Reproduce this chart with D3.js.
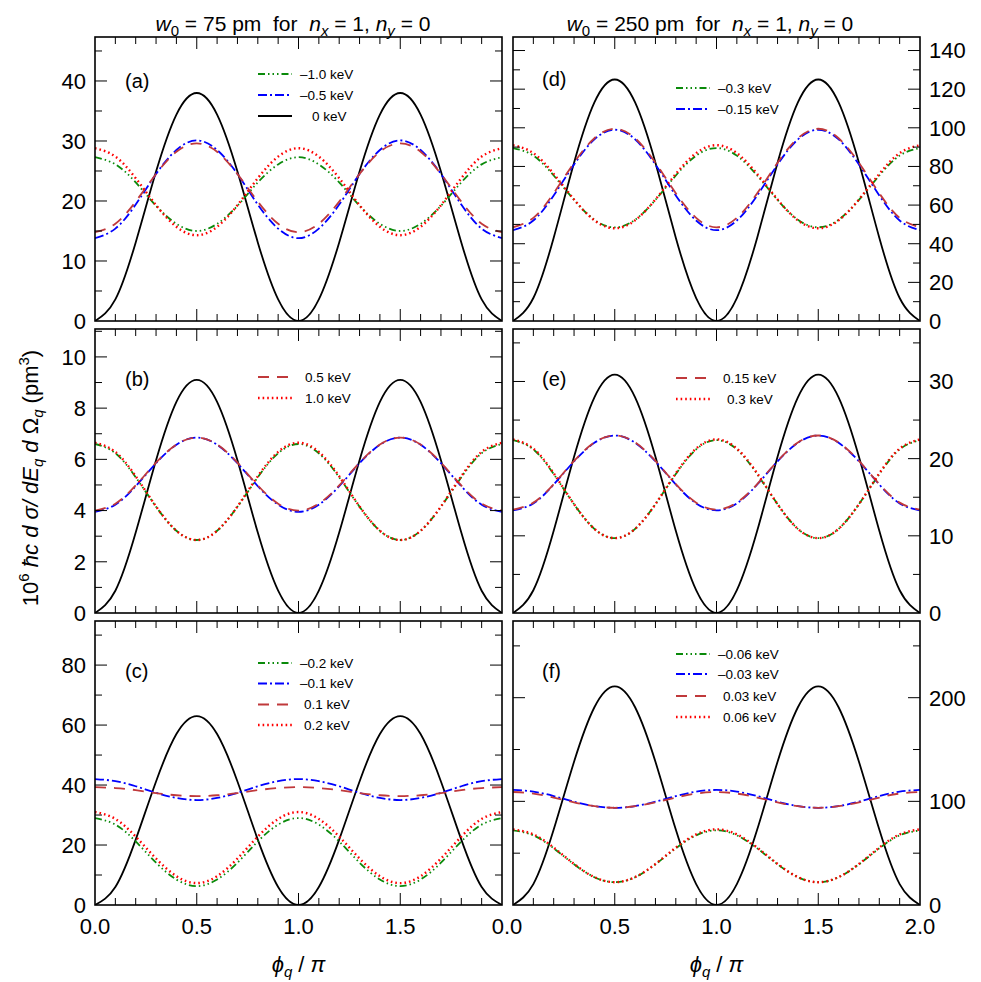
<html>
<head>
<script src="https://d3js.org/d3.v7.min.js"></script>
<style>
body { margin: 0; background: #fff; }
text { font-family: "Liberation Sans", Arial, Helvetica, sans-serif; fill: #000; }
</style>
</head>
<body>
<script>
// phi_q / pi sample positions
var phi = [0, 0.1, 0.2, 0.3, 0.4, 0.5, 0.6, 0.7, 0.8, 0.9, 1.0, 1.1, 1.2, 1.3, 1.4, 1.5, 1.6, 1.7, 1.8, 1.9, 2.0];

// (a) w0 = 75 pm, keV -1.0, -0.5, 0, 0.5, 1.0
var a_m10 = [27.3, 26.1, 23.1, 19.2, 16.2, 15.0, 16.2, 19.2, 23.1, 26.1, 27.3, 26.1, 23.1, 19.2, 16.2, 15.0, 16.2, 19.2, 23.1, 26.1, 27.3];
var a_m05 = [13.8, 15.4, 19.4, 24.5, 28.5, 30.1, 28.5, 24.5, 19.4, 15.4, 13.8, 15.4, 19.4, 24.5, 28.5, 30.1, 28.5, 24.5, 19.4, 15.4, 13.8];
var a_0   = [0, 3.6, 13.1, 24.9, 34.4, 38.0, 34.4, 24.9, 13.1, 3.6, 0, 3.6, 13.1, 24.9, 34.4, 38.0, 34.4, 24.9, 13.1, 3.6, 0];
var a_p05 = [14.8, 16.2, 19.9, 24.5, 28.2, 29.6, 28.2, 24.5, 19.9, 16.2, 14.8, 16.2, 19.9, 24.5, 28.2, 29.6, 28.2, 24.5, 19.9, 16.2, 14.8];
var a_p10 = [28.8, 27.4, 23.8, 19.3, 15.7, 14.3, 15.7, 19.3, 23.8, 27.4, 28.8, 27.4, 23.8, 19.3, 15.7, 14.3, 15.7, 19.3, 23.8, 27.4, 28.8];

// (b) w0 = 75 pm
var b_m10 = [6.6, 6.24, 5.3, 4.15, 3.21, 2.85, 3.21, 4.15, 5.3, 6.24, 6.6, 6.24, 5.3, 4.15, 3.21, 2.85, 3.21, 4.15, 5.3, 6.24, 6.6];
var b_m05 = [3.95, 4.23, 4.95, 5.85, 6.57, 6.85, 6.57, 5.85, 4.95, 4.23, 3.95, 4.23, 4.95, 5.85, 6.57, 6.85, 6.57, 5.85, 4.95, 4.23, 3.95];
var b_0   = [0, 0.87, 3.14, 5.96, 8.24, 9.1, 8.24, 5.96, 3.14, 0.87, 0, 0.87, 3.14, 5.96, 8.24, 9.1, 8.24, 5.96, 3.14, 0.87, 0];
var b_p05 = [4.0, 4.27, 4.98, 5.87, 6.58, 6.85, 6.58, 5.87, 4.98, 4.27, 4.0, 4.27, 4.98, 5.87, 6.58, 6.85, 6.58, 5.87, 4.98, 4.27, 4.0];
var b_p10 = [6.65, 6.29, 5.34, 4.16, 3.21, 2.85, 3.21, 4.16, 5.34, 6.29, 6.65, 6.29, 5.34, 4.16, 3.21, 2.85, 3.21, 4.16, 5.34, 6.29, 6.65];

// (c) w0 = 75 pm, keV -0.2, -0.1, 0, 0.1, 0.2
var c_m02 = [29, 26.8, 21.2, 14.1, 8.5, 6.3, 8.5, 14.1, 21.2, 26.8, 29, 26.8, 21.2, 14.1, 8.5, 6.3, 8.5, 14.1, 21.2, 26.8, 29];
var c_m01 = [42, 41.3, 39.6, 37.4, 35.7, 35, 35.7, 37.4, 39.6, 41.3, 42, 41.3, 39.6, 37.4, 35.7, 35, 35.7, 37.4, 39.6, 41.3, 42];
var c_0   = [0, 6.0, 21.8, 41.2, 57.0, 63, 57.0, 41.2, 21.8, 6.0, 0, 6.0, 21.8, 41.2, 57.0, 63, 57.0, 41.2, 21.8, 6.0, 0];
var c_p01 = [39.3, 39.0, 38.3, 37.3, 36.6, 36.3, 36.6, 37.3, 38.3, 39.0, 39.3, 39.0, 38.3, 37.3, 36.6, 36.3, 36.6, 37.3, 38.3, 39.0, 39.3];
var c_p02 = [31, 28.7, 22.8, 15.5, 9.6, 7.3, 9.6, 15.5, 22.8, 28.7, 31, 28.7, 22.8, 15.5, 9.6, 7.3, 9.6, 15.5, 22.8, 28.7, 31];

// (d) w0 = 250 pm, keV -0.3, -0.15, 0, 0.15, 0.3
var d_m03  = [89.5, 85.6, 75.3, 62.7, 52.4, 48.5, 52.4, 62.7, 75.3, 85.6, 89.5, 85.6, 75.3, 62.7, 52.4, 48.5, 52.4, 62.7, 75.3, 85.6, 89.5];
var d_m015 = [47, 52, 65, 81, 94, 99, 94, 81, 65, 52, 47, 52, 65, 81, 94, 99, 94, 81, 65, 52, 47];
var d_0    = [0, 11.9, 43.1, 81.9, 113.1, 125, 113.1, 81.9, 43.1, 11.9, 0, 11.9, 43.1, 81.9, 113.1, 125, 113.1, 81.9, 43.1, 11.9, 0];
var d_p015 = [48.5, 53.4, 66.1, 81.9, 94.6, 99.5, 94.6, 81.9, 66.1, 53.4, 48.5, 53.4, 66.1, 81.9, 94.6, 99.5, 94.6, 81.9, 66.1, 53.4, 48.5];
var d_p03  = [91, 86.9, 76.1, 62.9, 52.1, 48, 52.1, 62.9, 76.1, 86.9, 91, 86.9, 76.1, 62.9, 52.1, 48, 52.1, 62.9, 76.1, 86.9, 91];

// (e) w0 = 250 pm
var e_m03  = [22.4, 21.2, 18.0, 14.1, 10.9, 9.7, 10.9, 14.1, 18.0, 21.2, 22.4, 21.2, 18.0, 14.1, 10.9, 9.7, 10.9, 14.1, 18.0, 21.2, 22.4];
var e_m015 = [13.3, 14.2, 16.65, 19.65, 22.05, 23.0, 22.05, 19.65, 16.65, 14.2, 13.3, 14.2, 16.65, 19.65, 22.05, 23.0, 22.05, 19.65, 16.65, 14.2, 13.3];
var e_0    = [0, 2.95, 10.65, 20.25, 27.95, 30.9, 27.95, 20.25, 10.65, 2.95, 0, 2.95, 10.65, 20.25, 27.95, 30.9, 27.95, 20.25, 10.65, 2.95, 0];
var e_p015 = [13.4, 14.3, 16.7, 19.7, 22.1, 23.0, 22.1, 19.7, 16.7, 14.3, 13.4, 14.3, 16.7, 19.7, 22.1, 23.0, 22.1, 19.7, 16.7, 14.3, 13.4];
var e_p03  = [22.5, 21.3, 18.1, 14.1, 10.9, 9.7, 10.9, 14.1, 18.1, 21.3, 22.5, 21.3, 18.1, 14.1, 10.9, 9.7, 10.9, 14.1, 18.1, 21.3, 22.5];

// (f) w0 = 250 pm, keV -0.06, -0.03, 0, 0.03, 0.06
var f_m06 = [72, 67.2, 54.7, 39.3, 26.8, 22, 26.8, 39.3, 54.7, 67.2, 72, 67.2, 54.7, 39.3, 26.8, 22, 26.8, 39.3, 54.7, 67.2, 72];
var f_m03 = [111, 109.4, 105.1, 99.7, 95.4, 93.8, 95.4, 99.7, 105.1, 109.4, 111, 109.4, 105.1, 99.7, 95.4, 93.8, 95.4, 99.7, 105.1, 109.4, 111];
var f_0   = [0, 20.2, 72.8, 138.2, 190.8, 211, 190.8, 138.2, 72.8, 20.2, 0, 20.2, 72.8, 138.2, 190.8, 211, 190.8, 138.2, 72.8, 20.2, 0];
var f_p03 = [109, 107.5, 103.7, 99.0, 95.3, 93.8, 95.3, 99.0, 103.7, 107.5, 109, 107.5, 103.7, 99.0, 95.3, 93.8, 95.3, 99.0, 103.7, 107.5, 109];
var f_p06 = [73, 68.1, 55.4, 39.6, 26.9, 22, 26.9, 39.6, 55.4, 68.1, 73, 68.1, 55.4, 39.6, 26.9, 22, 26.9, 39.6, 55.4, 68.1, 73];

// tick labels
var xTicks = [0, 0.5, 1.0, 1.5, 2.0];
var aTicks = [0, 10, 20, 30, 40];
var bTicks = [0, 2, 4, 6, 8, 10];
var cTicks = [0, 20, 40, 60, 80];
var dTicks = [0, 20, 40, 60, 80, 100, 120, 140];
var eTicks = [0, 10, 20, 30];
var fTicks = [0, 100, 200];

// legend texts
var aLegend = ["–1.0 keV", "–0.5 keV", "0 keV"];
var bLegend = ["0.5 keV", "1.0 keV"];
var cLegend = ["–0.2 keV", "–0.1 keV", "0.1 keV", "0.2 keV"];
var dLegend = ["–0.3 keV", "–0.15 keV"];
var eLegend = ["0.15 keV", "0.3 keV"];
var fLegend = ["–0.06 keV", "–0.03 keV", "0.03 keV", "0.06 keV"];

var W = 981, H = 982;
var colX = [95, 513], pw = 407;
var rowY = [37, 329, 621], ph = 284;

// line styles
var styles = {
  z:  {color: "#000",    dash: null,                 width: 1.8},
  m2: {color: "#0a8a0a", dash: "7,3,1.5,3,1.5,3,1.5,3", width: 1.8},
  m1: {color: "#0000ff", dash: "9,3,2,3",             width: 1.8},
  p1: {color: "#c0393b", dash: "11,8",                width: 1.8},
  p2: {color: "#ff0000", dash: "1.6,3",               width: 2.4}
};

var panels = [
  {tag: "(a)", col: 0, row: 0, ymax: 47.33, minor: 5, ticks: aTicks,
   series: {z: a_0, m2: a_m10, m1: a_m05, p1: a_p05, p2: a_p10},
   legend: aLegend, legKeys: ["m2", "m1", "z"], legY: [37, 58, 79], legDx: [0, 0, 12], tagY: 51},
  {tag: "(b)", col: 0, row: 1, ymax: 11.09, minor: 1, ticks: bTicks,
   series: {z: b_0, m2: b_m10, m1: b_m05, p1: b_p05, p2: b_p10},
   legend: bLegend, legKeys: ["p1", "p2"], legY: [48, 69], legDx: [5, 5], tagY: 57},
  {tag: "(c)", col: 0, row: 2, ymax: 94.7, minor: 10, ticks: cTicks,
   series: {z: c_0, m2: c_m02, m1: c_m01, p1: c_p01, p2: c_p02},
   legend: cLegend, legKeys: ["m2", "m1", "p1", "p2"], legY: [42, 62.5, 83.5, 104], legDx: [0, 0, 4, 4], tagY: 57},
  {tag: "(d)", col: 1, row: 0, ymax: 147, minor: 10, ticks: dTicks,
   series: {z: d_0, m2: d_m03, m1: d_m015, p1: d_p015, p2: d_p03},
   legend: dLegend, legKeys: ["m2", "m1"], legY: [51, 72], legDx: [0, 0], tagY: 49},
  {tag: "(e)", col: 1, row: 1, ymax: 36.8, minor: 5, ticks: eTicks,
   series: {z: e_0, m2: e_m03, m1: e_m015, p1: e_p015, p2: e_p03},
   legend: eLegend, legKeys: ["p1", "p2"], legY: [49, 70], legDx: [5, 9], tagY: 57},
  {tag: "(f)", col: 1, row: 2, ymax: 274, minor: 50, ticks: fTicks,
   series: {z: f_0, m2: f_m06, m1: f_m03, p1: f_p03, p2: f_p06},
   legend: fLegend, legKeys: ["m2", "m1", "p1", "p2"], legY: [33, 53, 75, 96], legDx: [0, 0, 5, 5], tagY: 57}
];

var svg = d3.select("body").append("svg").attr("width", W).attr("height", H);

panels.forEach(function(p) {
  var x0 = colX[p.col], y0 = rowY[p.row];
  var g = svg.append("g").attr("transform", "translate(" + x0 + "," + y0 + ")");
  var x = d3.scaleLinear().domain([0, 2]).range([0, pw]);
  var y = d3.scaleLinear().domain([0, p.ymax]).range([ph, 0]);

  g.append("clipPath").attr("id", "clip" + p.col + p.row)
    .append("rect").attr("width", pw).attr("height", ph);

  var line = d3.line()
    .x(function(d, i) { return x(phi[i]); })
    .y(function(d) { return y(d); })
    .curve(d3.curveNatural);

  var order = ["z", "m2", "m1", "p1", "p2"];
  order.forEach(function(k) {
    var s = styles[k];
    g.append("path")
      .attr("clip-path", "url(#clip" + p.col + p.row + ")")
      .attr("d", line(p.series[k]))
      .attr("fill", "none")
      .attr("stroke", s.color)
      .attr("stroke-width", s.width)
      .attr("stroke-dasharray", s.dash);
  });

  // x ticks (inward, top and bottom)
  d3.range(1, 20).forEach(function(i) {
    var v = i / 10, big = (i % 5 === 0);
    var len = big ? 12 : 7;
    g.append("line").attr("x1", x(v)).attr("x2", x(v)).attr("y1", ph).attr("y2", ph - len)
      .attr("stroke", "#000").attr("stroke-width", 1);
    g.append("line").attr("x1", x(v)).attr("x2", x(v)).attr("y1", 0).attr("y2", len)
      .attr("stroke", "#000").attr("stroke-width", 1);
  });

  // y ticks (inward, left and right)
  d3.range(p.minor, p.ymax, p.minor).forEach(function(v) {
    var big = p.ticks.some(function(t) { return Math.abs(t - v) < 1e-6; });
    var len = big ? 12 : 7;
    g.append("line").attr("x1", 0).attr("x2", len).attr("y1", y(v)).attr("y2", y(v))
      .attr("stroke", "#000").attr("stroke-width", 1);
    g.append("line").attr("x1", pw).attr("x2", pw - len).attr("y1", y(v)).attr("y2", y(v))
      .attr("stroke", "#000").attr("stroke-width", 1);
  });

  // y tick labels
  p.ticks.forEach(function(t) {
    g.append("text")
      .attr("x", p.col === 0 ? -9 : pw + 9)
      .attr("y", y(t))
      .attr("dy", "0.36em")
      .attr("text-anchor", p.col === 0 ? "end" : "start")
      .style("font-size", "22px")
      .text(t);
  });

  // frame
  g.append("rect").attr("width", pw).attr("height", ph)
    .attr("fill", "none").attr("stroke", "#000").attr("stroke-width", 1.6);

  // panel tag
  g.append("text").attr("x", p.col === 0 ? 30 : 29).attr("y", p.tagY)
    .style("font-size", "20px").text(p.tag);

  // legend
  p.legend.forEach(function(lab, i) {
    var s = styles[p.legKeys[i]];
    g.append("line").attr("x1", 163).attr("x2", 197)
      .attr("y1", p.legY[i]).attr("y2", p.legY[i])
      .attr("stroke", s.color).attr("stroke-width", s.width)
      .attr("stroke-dasharray", s.dash);
    g.append("text").attr("x", 205 + p.legDx[i]).attr("y", p.legY[i])
      .attr("dy", "0.36em").style("font-size", "13.5px").text(lab);
  });

  // x tick labels on bottom row
  if (p.row === 2) {
    xTicks.forEach(function(t) {
      if (t === 0 && p.col === 1) return;
      if (t === 2 && p.col === 0) return;
      g.append("text").attr("x", x(t)).attr("y", ph + 29)
        .attr("text-anchor", "middle").style("font-size", "22px")
        .text(d3.format(".1f")(t));
    });
    if (p.col === 0) {
      g.append("text").attr("x", pw + 5).attr("y", ph + 29)
        .attr("text-anchor", "middle").style("font-size", "22px").text("0.0");
    }
    // x axis title
    var xt = g.append("text").attr("x", pw / 2).attr("y", ph + 67)
      .attr("text-anchor", "middle").style("font-size", "22px")
      .style("white-space", "pre");
    xt.append("tspan").style("font-style", "italic").text("ϕ");
    xt.append("tspan").attr("dy", 5).style("font-size", "15px").style("font-style", "italic").text("q");
    xt.append("tspan").attr("dy", -5).text(" / ");
    xt.append("tspan").style("font-style", "italic").text("π");
  }
});

// column titles
function title(cx, w0) {
  var t = svg.append("text").attr("x", cx).attr("y", 31)
    .attr("text-anchor", "middle").style("font-size", "21px")
    .style("white-space", "pre");
  t.append("tspan").style("font-style", "italic").text("w");
  t.append("tspan").attr("dy", 5).style("font-size", "15px").text("0");
  t.append("tspan").attr("dy", -5).text(" = " + w0 + " pm  for  ");
  t.append("tspan").style("font-style", "italic").text("n");
  t.append("tspan").attr("dy", 5).style("font-size", "15px").style("font-style", "italic").text("x");
  t.append("tspan").attr("dy", -5).text(" = 1, ");
  t.append("tspan").style("font-style", "italic").text("n");
  t.append("tspan").attr("dy", 5).style("font-size", "15px").style("font-style", "italic").text("y");
  t.append("tspan").attr("dy", -5).text(" = 0");
}
title(293, 75);
title(710, 250);

// y axis title
var yt = svg.append("text")
  .attr("transform", "translate(38,478) rotate(-90)")
  .attr("text-anchor", "middle").style("font-size", "22px")
  .style("white-space", "pre");
yt.append("tspan").text("10");
yt.append("tspan").attr("dy", -9).style("font-size", "15px").text("6");
yt.append("tspan").attr("dy", 9).text(" ");
yt.append("tspan").style("font-style", "italic").text("ħc d σ/ dE");
yt.append("tspan").attr("dy", 5).style("font-size", "15px").style("font-style", "italic").text("q");
yt.append("tspan").attr("dy", -5).style("font-style", "italic").text(" d ");
yt.append("tspan").text("Ω");
yt.append("tspan").attr("dy", 5).style("font-size", "15px").style("font-style", "italic").text("q");
yt.append("tspan").attr("dy", -5).text(" (pm");
yt.append("tspan").attr("dy", -9).style("font-size", "15px").text("3");
yt.append("tspan").attr("dy", 9).text(")");
</script>
</body>
</html>
